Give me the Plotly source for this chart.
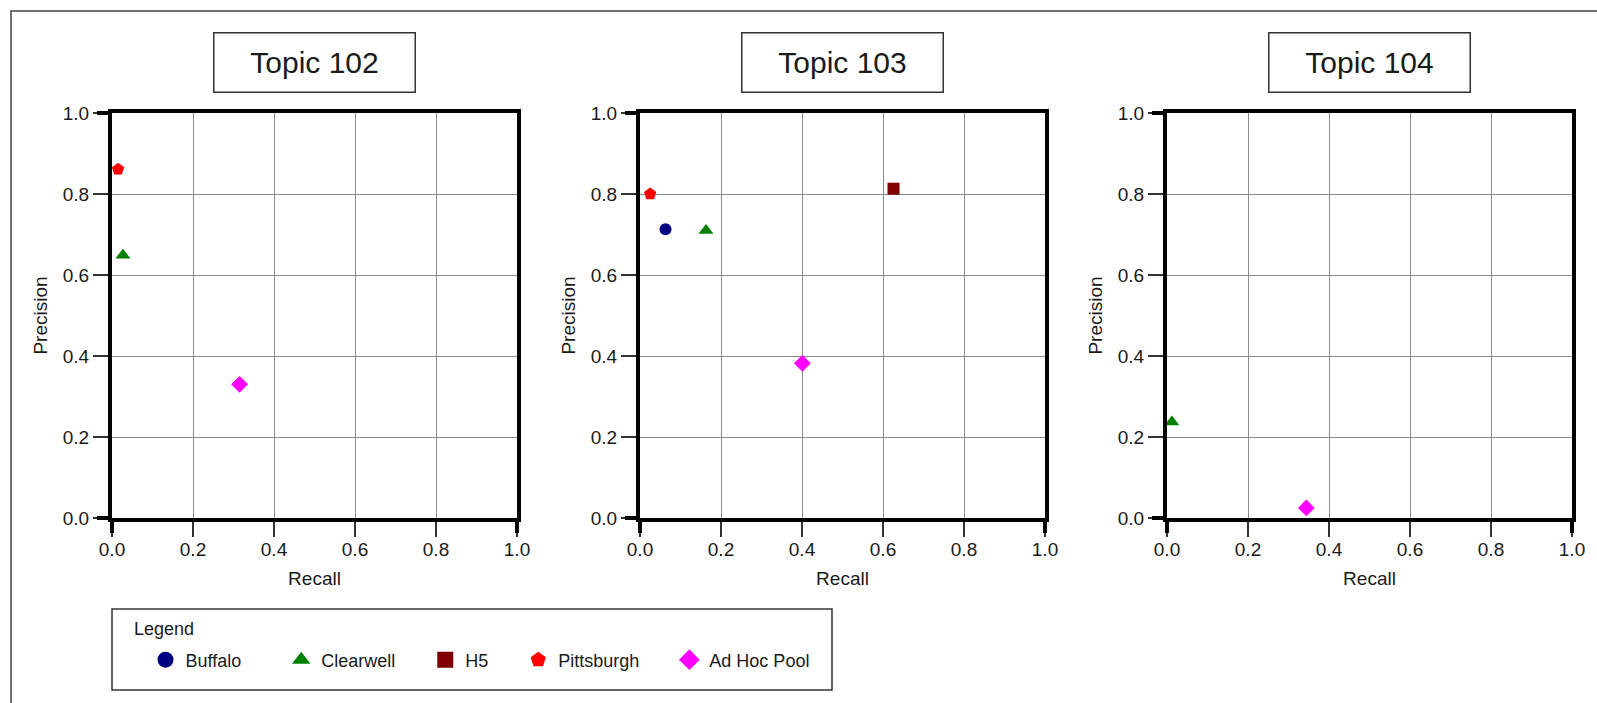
import plotly.graph_objects as go

W, H = 1597, 703

topics = ["Topic 102", "Topic 103", "Topic 104"]
systems = ["Buffalo", "Clearwell", "H5", "Pittsburgh", "Ad Hoc Pool"]
symbols = ["circle", "triangle-up", "square", "pentagon", "diamond"]
colors = ["#000080", "#008000", "#800000", "#FF0000", "#FF00FF"]

# values per topic (102, 103, 104); None = system not present
buffalo_recall = [None, 0.063, None]
buffalo_precision = [None, 0.713, None]
clearwell_recall = [0.027, 0.163, 0.012]
clearwell_precision = [0.649, 0.710, 0.237]
h5_recall = [None, 0.626, None]
h5_precision = [None, 0.813, None]
pittsburgh_recall = [0.015, 0.025, None]
pittsburgh_precision = [0.861, 0.800, None]
adhoc_recall = [0.315, 0.401, 0.344]
adhoc_precision = [0.330, 0.382, 0.025]

tick_vals = [0.0, 0.2, 0.4, 0.6, 0.8, 1.0]
tick_text = ["0.0", "0.2", "0.4", "0.6", "0.8", "1.0"]

recalls = [buffalo_recall, clearwell_recall, h5_recall, pittsburgh_recall, adhoc_recall]
precisions = [buffalo_precision, clearwell_precision, h5_precision, pittsburgh_precision, adhoc_precision]
plot_sizes = [12, 13, 12, 13, 13]
# extra spacing after each legend label (non-breaking spaces)
legend_pad = [7, 5, 5, 5, 0]

FONT = "Arial, Liberation Sans, sans-serif"
TXT = "#1a1a1a"

# panel geometry in pixels
px_left = [112, 640, 1167]
px_w = 405
px_top, px_bottom = 113, 518

fig = go.Figure()

for t in range(3):
    ax = "" if t == 0 else str(t + 1)
    for s in range(len(systems)):
        xv = recalls[s][t]
        yv = precisions[s][t]
        if xv is None:
            continue
        fig.add_trace(go.Scatter(
            x=[xv], y=[yv], mode="markers", xaxis="x" + ax, yaxis="y" + ax,
            marker=dict(symbol=symbols[s], color=colors[s], size=plot_sizes[s], line=dict(width=0)),
            showlegend=False, cliponaxis=False, name=systems[s],
        ))

# legend entries
for s in range(len(systems)):
    fig.add_trace(go.Scatter(
        x=[None], y=[None], mode="markers", name=systems[s] + "\u00a0" * legend_pad[s],
        marker=dict(symbol=symbols[s], color=colors[s], size=16, line=dict(width=0)),
        showlegend=True,
    ))

layout = dict(
    template="none",
    width=W, height=H,
    margin=dict(l=0, r=0, t=0, b=0, autoexpand=False),
    paper_bgcolor="white", plot_bgcolor="white",
    font=dict(family=FONT, color=TXT, size=18),
    showlegend=True,
    legend=dict(
        orientation="h", xref="container", yref="container",
        x=145.5 / W, xanchor="left", y=1 - 660 / H, yanchor="middle",
        borderwidth=0, bgcolor="rgba(0,0,0,0)",
        font=dict(size=18), itemwidth=30,
        tracegroupgap=0,
    ),
)

shapes = []
annotations = []
for t in range(3):
    ax = "" if t == 0 else str(t + 1)
    x0 = px_left[t] / W
    x1 = (px_left[t] + px_w) / W
    y0 = 1 - px_bottom / H
    y1 = 1 - px_top / H
    common = dict(
        range=[0, 1], tickvals=tick_vals, ticktext=tick_text, automargin=False,
        showgrid=True, gridcolor="#8a8a8a", gridwidth=1.3,
        showline=True, linecolor="black", linewidth=4, mirror=True,
        ticks="outside", ticklen=15, tickwidth=1.5, tickcolor="#333",
        tickfont=dict(size=19, color=TXT, family=FONT),
        zeroline=False, fixedrange=True,
    )
    layout["xaxis" + ax] = dict(
        common, domain=[x0, x1], anchor="y" + ax,
        title=dict(text="Recall", font=dict(size=19, color=TXT), standoff=14),
        ticklabelstandoff=-4,
    )
    layout["yaxis" + ax] = dict(
        common, domain=[y0, y1], anchor="x" + ax,
        title=dict(text="Precision", font=dict(size=19, color=TXT), standoff=11),
        ticklabelstandoff=0,
    )
    xr = "x" + ax + " domain"
    yr = "y" + ax + " domain"
    ext = 15 / px_w
    # thick extensions of the axis lines at the corners
    shapes.append(dict(type="line", xref=xr, yref=yr, x0=0, x1=0, y0=-ext, y1=0,
                       line=dict(color="black", width=4), layer="above"))
    shapes.append(dict(type="line", xref=xr, yref=yr, x0=1, x1=1, y0=-ext, y1=0,
                       line=dict(color="black", width=4), layer="above"))
    shapes.append(dict(type="line", xref=xr, yref=yr, x0=-ext, x1=0, y0=0, y1=0,
                       line=dict(color="black", width=4), layer="above"))
    shapes.append(dict(type="line", xref=xr, yref=yr, x0=-ext, x1=0, y0=1, y1=1,
                       line=dict(color="black", width=4), layer="above"))
    annotations.append(dict(
        text=topics[t], xref=xr, x=0.5, xanchor="center",
        yref="paper", y=1 - 62 / H, yanchor="middle", showarrow=False,
        font=dict(size=30, color=TXT, family=FONT),
        bordercolor="#333", borderwidth=1.5, bgcolor="white",
        width=198, height=56,
    ))

# legend frame and heading
shapes.append(dict(type="rect", xref="paper", yref="paper",
                   x0=112 / W, x1=832 / W, y0=1 - 690 / H, y1=1 - 609 / H,
                   line=dict(color="#333", width=1.5), layer="below"))
annotations.append(dict(
    text="Legend", xref="paper", x=132 / W, xanchor="left",
    yref="paper", y=1 - 629 / H, yanchor="middle", showarrow=False,
    font=dict(size=18, color=TXT, family=FONT),
))

# outer frame
shapes.append(dict(type="rect", xref="paper", yref="paper",
                   x0=11 / W, x1=1.02, y0=-0.02, y1=1 - 11 / H,
                   line=dict(color="#444", width=1.5), layer="below"))

layout["shapes"] = shapes
layout["annotations"] = annotations
fig.update_layout(**layout)

fig.write_html("out.html", config={"displayModeBar": False},
               post_script="document.body.style.margin='0px';")
